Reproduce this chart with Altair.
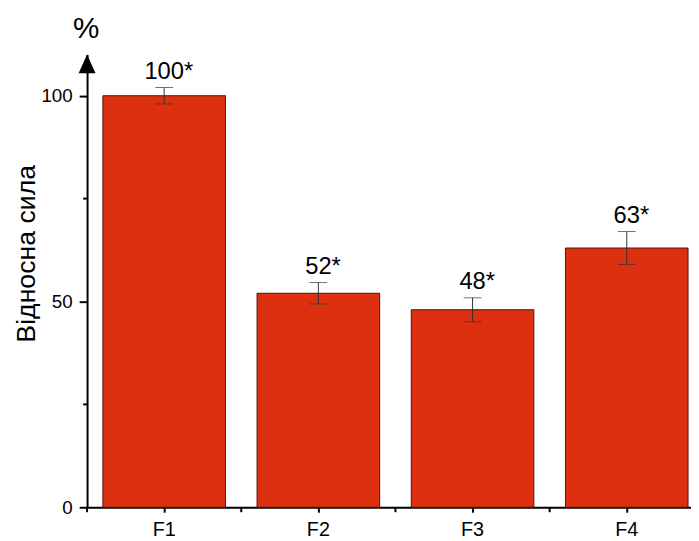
import altair as alt
import pandas as pd

categories = ["F1", "F2", "F3", "F4"]
values = [100, 52, 48, 63]
errors = [2.0, 2.6, 2.9, 4.0]
labels = ["100*", "52*", "48*", "63*"]
y_major = [0, 50, 100]
y_minor = [25, 75]
axis_title = "Відносна сила"
unit_text = ["%"]

FONT = "Liberation Sans"
W, H = 611, 458
BAR = "#DC3011"

df = pd.DataFrame({"cat": categories, "value": values, "err": errors, "label": labels})
df["lo"] = df["value"] - df["err"]
df["hi"] = df["value"] + df["err"]

xscale = alt.Scale(domain=categories, range=[0, 624], paddingInner=0, paddingOuter=0)
yscale = alt.Scale(domain=[0, 110], nice=False, zero=True)

xaxis = alt.Axis(title=None, labelAngle=0, labelFontSize=20, labelFont=FONT, labelColor="black",
                 tickSize=5, tickWidth=2, tickColor="black", domainWidth=2, domainColor="black",
                 labelPadding=8, grid=False)
yaxis = alt.Axis(values=y_major, title=axis_title, titleFontSize=27, titleFontWeight="normal",
                 titleFont=FONT, titleColor="black", titleX=-53, titleY=201, titleAngle=270,
                 titleBaseline="alphabetic", titleAlign="center",
                 labelFontSize=19, labelFont=FONT, labelColor="black", labelPadding=7,
                 tickSize=8, tickWidth=2, tickColor="black", domainWidth=2, domainColor="black",
                 grid=False)

base = alt.Chart(df)

bars = base.mark_bar(width=alt.RelativeBandSize(0.795), color=BAR, stroke="#4d1408", strokeWidth=1).encode(
    x=alt.X("cat:N", scale=xscale, sort=categories, axis=xaxis),
    y=alt.Y("value:Q", scale=yscale, axis=yaxis),
)

err_rule = base.mark_rule(color="#333333", strokeWidth=1).encode(
    x=alt.X("cat:N", sort=categories), y="lo:Q", y2="hi:Q"
)
cap_lo = base.mark_tick(color="#333333", size=18, thickness=1).encode(
    x=alt.X("cat:N", sort=categories), y="lo:Q"
)
cap_hi = base.mark_tick(color="#333333", size=18, thickness=1).encode(
    x=alt.X("cat:N", sort=categories), y="hi:Q"
)
text = base.mark_text(fontSize=24, font=FONT, dy=-8.5, dx=4.7, baseline="alphabetic", align="center",
                      color="black").encode(
    x=alt.X("cat:N", sort=categories), y="hi:Q", text="label:N"
)

minor = alt.Chart(pd.DataFrame({"v": y_minor})).mark_rule(color="black", strokeWidth=2).encode(
    y="v:Q", x=alt.value(0), x2=alt.value(-4)
)
bound_ticks = base.mark_rule(color="black", strokeWidth=2).encode(
    x=alt.X("cat:N", sort=categories, bandPosition=0), y=alt.value(H), y2=alt.value(H + 5)
)
arrow = alt.Chart(pd.DataFrame({"a": [0]})).mark_point(
    shape="M-0.9,1L0.9,1L0,-1Z", filled=True, color="black", size=361, opacity=1, strokeWidth=0
).encode(x=alt.value(0), y=alt.value(9.5))
unit = alt.Chart(pd.DataFrame({"t": unit_text})).mark_text(
    fontSize=30, font=FONT, align="center", baseline="alphabetic", color="black"
).encode(text="t:N", x=alt.value(-1), y=alt.value(-17))

chart = alt.layer(bars, err_rule, cap_lo, cap_hi, text, minor, bound_ticks, arrow, unit).properties(
    width=W, height=H, autosize=alt.AutoSizeParams(type="none"),
    padding={"left": 80, "top": 44, "right": 0, "bottom": 31},
).configure(font=FONT).configure_view(stroke=None)

chart.save("out.html", embed_options={"renderer": "svg", "actions": False})
